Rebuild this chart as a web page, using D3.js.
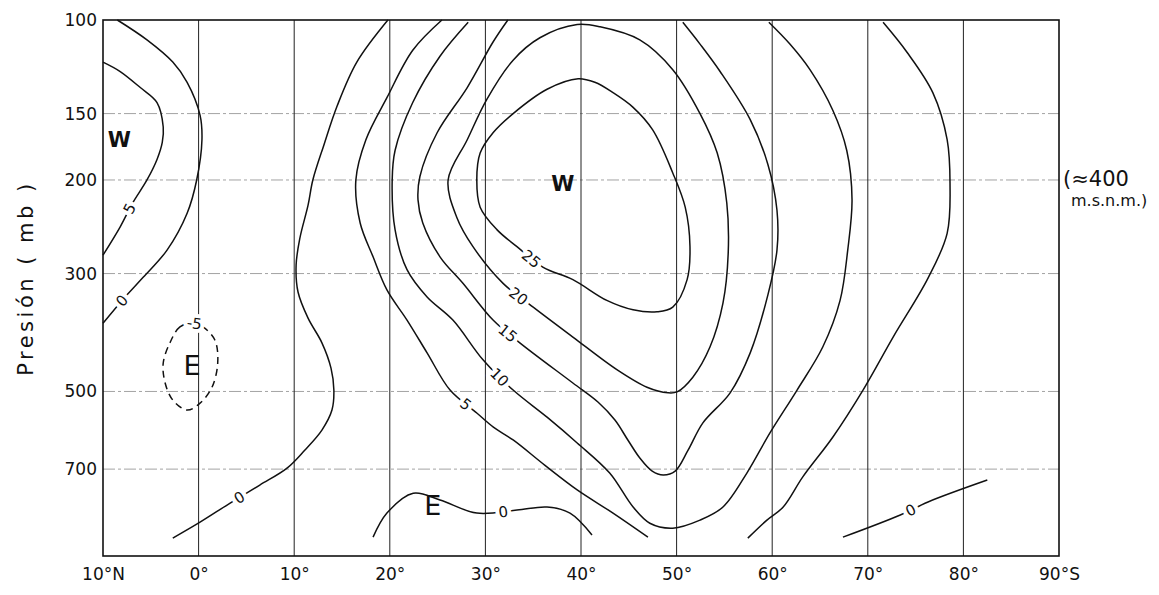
<!DOCTYPE html>
<html>
<head>
<meta charset="utf-8">
<script src="https://cdn.jsdelivr.net/npm/d3@7"></script>
<style>
  body { margin: 0; background: #fff; }
  text { font-family: "DejaVu Sans", sans-serif; fill: #111; }
</style>
</head>
<body>
<div id="chart"></div>
<script>
// Zonal wind cross-section: latitude (10N .. 90S) vs pressure (mb)
var svgWidth = 1159;
var svgHeight = 595;

var margin = { top: 20, right: 100, bottom: 39, left: 103 };
var width = 1059 - margin.left;   // plot area
var height = 556 - margin.top;

// axis ticks
var latTicks = [-10, 0, 10, 20, 30, 40, 50, 60, 70, 80, 90];
var latLabels = ["10°N", "0°", "10°", "20°", "30°", "40°", "50°", "60°", "70°", "80°", "90°S"];
var presTicks = [100, 150, 200, 300, 500, 700];

// contour lines, [latitude (negative = north), pressure mb]
var c0North = [[-8.5,100],[-5.4,109],[-2.7,120],[-1.2,131],[0.15,151],[0.35,168],[-0.2,200],[-1.2,231],[-3.3,271],[-5.8,305],[-8.0,337],[-10,372]];
var c5North = [[-10,120],[-8.2,125],[-6.1,134],[-4.35,143],[-3.7,159],[-3.8,170],[-4.35,183],[-5.4,200],[-6.9,221],[-8.2,245],[-10,277]];
var cMinus5Eq = [[-0.6,372],[-1.95,378],[-3.0,405],[-3.7,442],[-3.5,482],[-2.7,519],[-1.2,542],[0.15,526],[1.4,491],[2.0,442],[1.7,400],[0.45,378]];
var c0Subtrop = [[-2.7,944],[0.15,881],[3.3,811],[6.4,750],[9.25,697],[11.1,645],[12.9,591],[13.95,542],[14.15,497],[13.85,452],[12.9,405],[11.45,364],[10.4,325],[10.2,289],[10.6,257],[11.45,223],[11.95,200],[13.1,172],[14.5,145],[16.55,120],[19.8,100]];
var c5Jet = [[25.45,100],[22.4,114],[19.7,140],[17.5,168],[16.45,200],[16.9,241],[18.25,279],[19.7,322],[21.8,367],[23.9,423],[26.3,497],[29.1,549],[30.8,583],[32.9,617],[36.2,688],[39.6,766],[43.35,847],[47.0,940]];
var c10 = [[28.2,101],[25.25,117],[22.4,143],[20.55,176],[20.25,200],[20.55,248],[21.8,295],[23.9,332],[26.6,367],[29.75,436],[32.9,497],[36.45,559],[39.6,625],[43.0,712],[45.45,825],[47.2,885],[49.6,904],[52.45,873],[54.85,825],[57.35,712],[59.75,599],[62.6,497],[65.3,412],[67.1,337],[67.9,271],[68.35,218],[67.8,176],[66.35,148],[63.95,124],[61.85,111],[59.65,101]];
var c15 = [[32.35,100],[30.8,110],[28.1,134],[24.95,163],[23.15,197],[22.95,218],[23.45,241],[25.25,279],[27.65,313],[30.8,367],[33.6,405],[39.15,482],[41.8,524],[43.55,566],[44.9,617],[46.15,667],[47.45,706],[48.6,718],[49.85,706],[51.2,645],[52.75,573],[55.6,503],[57.7,423],[59.55,329],[60.5,271],[60.5,228],[59.55,187],[57.7,154],[54.55,125],[52.45,111],[50.65,101]];
var c20 = [[39.6,102],[35.7,108],[32.9,119],[30.15,141],[28.1,168],[26.1,200],[27.0,235],[28.7,267],[31.85,313],[35.0,347],[39.15,395],[43.75,455],[46.9,491],[49.1,503],[50.05,501],[51.7,470],[53.5,412],[54.85,341],[55.4,274],[55.25,221],[54.25,178],[52.45,150],[49.6,124],[46.15,109],[42.0,103]];
var c25 = [[39.7,129],[36.45,135],[32.9,150],[30.8,163],[29.45,178],[29.1,200],[29.45,225],[31.2,248],[33.3,267],[36.05,292],[39.15,308],[42.7,337],[45.45,351],[47.95,354],[49.6,347],[51.1,308],[51.4,267],[50.9,225],[49.6,194],[47.5,161],[45.45,146],[43.35,137],[41.45,131]];
var c5Polar = [[71.6,101],[74.1,115],[76.8,137],[78.3,168],[78.6,203],[78.3,252],[76.3,306],[72.65,395],[69.5,497],[66.35,609],[63.2,724],[61.15,825],[59.45,873],[57.45,944]];
var c0Polar = [[67.4,940],[73.4,854],[76.3,807],[82.5,734]];
var c0Trades = [[18.25,940],[19.7,847],[22.45,777],[25.25,800],[29.1,847],[33.3,836],[36.45,825],[38.85,847],[41.15,931]];

// which lines, closed or open, dashed (negative values)
var contours = [
  { id: "c0North", pts: c0North, closed: false, dashed: false },
  { id: "c5North", pts: c5North, closed: false, dashed: false },
  { id: "cMinus5Eq", pts: cMinus5Eq, closed: true, dashed: true },
  { id: "c0Subtrop", pts: c0Subtrop, closed: false, dashed: false },
  { id: "c5Jet", pts: c5Jet, closed: false, dashed: false },
  { id: "c10", pts: c10, closed: false, dashed: false },
  { id: "c15", pts: c15, closed: false, dashed: false },
  { id: "c20", pts: c20, closed: true, dashed: false },
  { id: "c25", pts: c25, closed: true, dashed: false },
  { id: "c5Polar", pts: c5Polar, closed: false, dashed: false },
  { id: "c0Polar", pts: c0Polar, closed: false, dashed: false },
  { id: "c0Trades", pts: c0Trades, closed: false, dashed: false }
];

// contour value labels: line id, text, [lat, p]
var labelLines = ["c5North", "c0North", "cMinus5Eq", "c0Subtrop", "c5Jet", "c10", "c15", "c20", "c25", "c0Trades", "c0Polar"];
var labelTexts = ["5", "0", "-5", "0", "5", "10", "15", "20", "25", "0", "0"];
var labelAt = [[-6.9,228],[-8.0,337],[-0.4,372],[4.1,783],[27.9,530],[31.5,470],[32.35,388],[33.6,329],[34.85,280],[31.85,843],[74.4,829]];

// W / E regions
var regionTexts = ["W", "W", "E", "E"];
var regionAt = [[-8.3,168],[38.1,203],[-0.7,446],[24.5,818]];

var svg = d3.select("#chart")
  .append("svg")
  .attr("width", svgWidth)
  .attr("height", svgHeight);

var chartGroup = svg.append("g")
  .attr("transform", `translate(${margin.left}, ${margin.top})`);

var x = d3.scaleLinear().domain([-10, 90]).range([0, width]);
var y = d3.scaleLog().domain([100, 1020]).range([0, height]);

// horizontal grid (dash-dot grey)
chartGroup.append("g")
  .selectAll("line")
  .data(presTicks.slice(1))
  .enter()
  .append("line")
  .attr("x1", 0)
  .attr("x2", width)
  .attr("y1", d => y(d))
  .attr("y2", d => y(d))
  .attr("stroke", "#999")
  .attr("stroke-width", 0.9)
  .attr("stroke-dasharray", "12,3,3,3");

// vertical grid (solid)
chartGroup.append("g")
  .selectAll("line")
  .data(latTicks.slice(1, -1))
  .enter()
  .append("line")
  .attr("x1", d => x(d))
  .attr("x2", d => x(d))
  .attr("y1", 0)
  .attr("y2", height)
  .attr("stroke", "#222")
  .attr("stroke-width", 1);

// contour lines
var paths = {};
contours.forEach(function(c) {
  var line = d3.line()
    .x(d => x(d[0]))
    .y(d => y(d[1]))
    .curve(c.closed ? d3.curveCatmullRomClosed : d3.curveCatmullRom);
  var p = chartGroup.append("path")
    .datum(c.pts)
    .attr("d", line)
    .attr("fill", "none")
    .attr("stroke", "#111")
    .attr("stroke-width", 1.5)
    .attr("stroke-dasharray", c.dashed ? "7,5" : null);
  paths[c.id] = p.node();
});

// labels sitting on the lines, rotated along them
labelLines.forEach(function(id, i) {
  var node = paths[id];
  var tx = x(labelAt[i][0]), ty = y(labelAt[i][1]);
  var L = node.getTotalLength();
  var best = 0, bd = Infinity;
  for (var s = 0; s <= L; s += 1) {
    var q = node.getPointAtLength(s);
    var dd = (q.x - tx) * (q.x - tx) + (q.y - ty) * (q.y - ty);
    if (dd < bd) { bd = dd; best = s; }
  }
  var a = node.getPointAtLength(Math.max(0, best - 6));
  var b = node.getPointAtLength(Math.min(L, best + 6));
  var ang = Math.atan2(b.y - a.y, b.x - a.x) * 180 / Math.PI;
  if (ang > 90) ang -= 180;
  if (ang < -90) ang += 180;
  var c = node.getPointAtLength(best);
  chartGroup.append("text")
    .attr("transform", `translate(${c.x}, ${c.y}) rotate(${ang})`)
    .attr("text-anchor", "middle")
    .attr("dy", "0.35em")
    .attr("font-size", "15px")
    .attr("stroke", "#fff")
    .attr("stroke-width", 8)
    .attr("stroke-linejoin", "round")
    .attr("paint-order", "stroke")
    .text(labelTexts[i]);
});

// W / E
chartGroup.append("g")
  .selectAll("text")
  .data(regionTexts)
  .enter()
  .append("text")
  .attr("x", (d, i) => x(regionAt[i][0]))
  .attr("y", (d, i) => y(regionAt[i][1]))
  .attr("dy", "0.36em")
  .attr("text-anchor", "middle")
  .attr("font-size", d => d === "W" ? "21px" : "27px")
  .attr("font-weight", d => d === "W" ? "bold" : "normal")
  .text(d => d);

// frame
chartGroup.append("rect")
  .attr("width", width)
  .attr("height", height)
  .attr("fill", "none")
  .attr("stroke", "#111")
  .attr("stroke-width", 1.6);

// axes
var leftAxis = d3.axisLeft(y).tickValues(presTicks).tickFormat(d3.format("d")).tickSize(0).tickPadding(6);
var yAxis = chartGroup.append("g").call(leftAxis);
yAxis.select(".domain").remove();
yAxis.selectAll("text").attr("font-size", "17px").attr("font-family", "DejaVu Sans");

var bottomAxis = d3.axisBottom(x).tickValues(latTicks).tickFormat((d, i) => latLabels[i]).tickSize(0).tickPadding(12);
var xAxis = chartGroup.append("g")
  .attr("transform", `translate(0, ${height})`)
  .call(bottomAxis);
xAxis.select(".domain").remove();
xAxis.selectAll("text").attr("font-size", "17px").attr("font-family", "DejaVu Sans");

// y title
chartGroup.append("text")
  .attr("transform", "rotate(-90)")
  .attr("x", -258)
  .attr("y", -margin.left + 33)
  .attr("text-anchor", "middle")
  .attr("font-size", "21px")
  .attr("letter-spacing", "3.5px")
  .text("Presión ( mb )");

// right annotation at 200 mb
var ann = chartGroup.append("text")
  .attr("x", width + 4)
  .attr("y", y(200) + 6);
ann.append("tspan").attr("font-size", "21px").text("(≈400");
ann.append("tspan").attr("x", width + 12).attr("dy", 20).attr("font-size", "16px").text("m.s.n.m.)");
</script>
</body>
</html>
